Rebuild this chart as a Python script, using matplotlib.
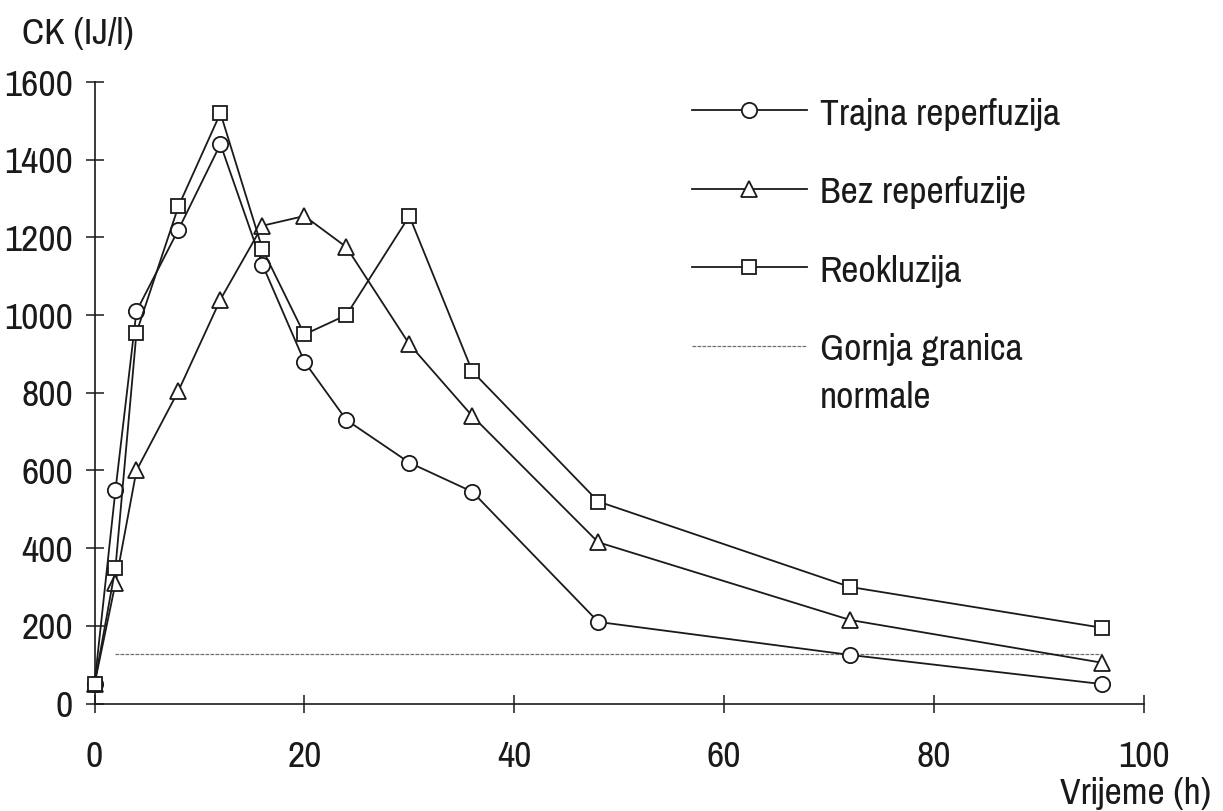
import matplotlib
matplotlib.use("Agg")
import matplotlib.pyplot as plt
from matplotlib import font_manager as fm

# ---- data ----
time_h = [0, 2, 4, 8, 12, 16, 20, 24, 30, 36, 48, 72, 96]
trajna_reperfuzija = [50, 550, 1010, 1220, 1440, 1130, 880, 730, 620, 545, 210, 125, 50]
bez_reperfuzije = [50, 310, 600, 805, 1040, 1230, 1255, 1175, 925, 740, 415, 215, 105]
reokluzija = [50, 350, 955, 1280, 1520, 1170, 950, 1000, 1255, 855, 520, 300, 195]
gornja_granica = 127
granica_x = [2, 96]

series_labels = ["Trajna reperfuzija", "Bez reperfuzije", "Reokluzija", "Gornja granica"]
extra_label = "normale"
y_label = "CK (IJ/l)"
x_label = "Vrijeme (h)"
x_ticks = [0, 20, 40, 60, 80, 100]
y_ticks = [0, 200, 400, 600, 800, 1000, 1200, 1400, 1600]

names = {f.name for f in fm.fontManager.ttflist}
fam = "Liberation Sans"
for cand in ["Pragati Narrow", "Liberation Sans Narrow", "Archivo Narrow", "PT Sans Narrow",
             "Roboto Condensed", "IBM Plex Sans Condensed"]:
    if cand in names:
        fam = cand
        break
plt.rcParams["font.family"] = [fam, "DejaVu Sans"]
FS = 29.5
INK = "#1a1a1a"

W, H = 1223, 811
fig = plt.figure(figsize=(W / 100, H / 100), dpi=100)
x0, x1 = 94.5, 1144
y0, y1 = 703.5, 82
ax = fig.add_axes([x0 / W, 1 - y0 / H, (x1 - x0) / W, (y0 - y1) / H])
ax.set_xlim(0, 100)
ax.set_ylim(0, 1600)

mk = dict(color=INK, lw=1.3, markerfacecolor="white", markeredgecolor=INK,
          markeredgewidth=1.3, clip_on=False, zorder=3)
l1, = ax.plot(time_h, trajna_reperfuzija, marker="o", markersize=11, **mk)
l2, = ax.plot(time_h, bez_reperfuzije, marker="^", markersize=11, **mk)
l3, = ax.plot(time_h, reokluzija, marker="s", markersize=10.5, **mk)
l4, = ax.plot(granica_x, [gornja_granica, gornja_granica], color="#707070",
              lw=0.9, ls=(0, (3, 1)), zorder=2)

for s in ["top", "right"]:
    ax.spines[s].set_visible(False)
for s in ["left", "bottom"]:
    ax.spines[s].set_linewidth(1.2)
    ax.spines[s].set_color(INK)

ax.set_xticks(x_ticks)
ax.set_yticks(y_ticks)
ax.tick_params(axis="both", direction="inout", length=13, width=1.1, color=INK,
               labelsize=FS, labelcolor=INK)
ax.tick_params(axis="x", pad=20)
ax.tick_params(axis="y", pad=9)

fig.text(22 / W, 1 - 33 / H, y_label, fontsize=FS, color=INK, va="center", ha="left")
fig.text(1060 / W, 1 - 793 / H, x_label, fontsize=FS, color=INK, va="center", ha="left")

leg = ax.legend([l1, l2, l3, l4], series_labels, loc="upper left",
                bbox_to_anchor=(692 / W, 1 - 96 / H), bbox_transform=fig.transFigure,
                frameon=False, fontsize=FS, handlelength=2.8, handletextpad=0.32,
                labelspacing=1.07, borderpad=0, borderaxespad=0, numpoints=1,
                markerfirst=True)
for t in leg.get_texts():
    t.set_color(INK)
fig.text(820 / W, 1 - 398 / H, extra_label, fontsize=FS, color=INK, va="center", ha="left")

fig.savefig("out.png", dpi=100, facecolor="white")
